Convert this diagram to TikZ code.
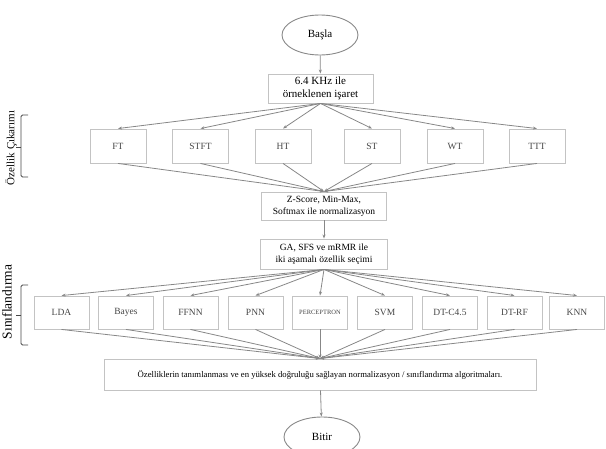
\documentclass[tikz,border=0pt]{standalone}
\usepackage{fontspec}
\setmainfont{Liberation Serif}
\usetikzlibrary{arrows.meta,shapes.geometric}
\definecolor{kenar}{RGB}{195,195,195}
\definecolor{cizgi}{RGB}{135,135,135}
\definecolor{yazi}{RGB}{70,70,70}

\begin{document}
\begin{tikzpicture}[>={Stealth[length=4pt,width=3pt]}, x=1pt, y=-1pt,
    kutu/.style={draw=kenar, line width=0.9pt, minimum width=56pt, minimum height=34pt, inner sep=1pt, text=yazi, font=\fontsize{9.5}{11}\selectfont},
    adim/.style={draw=kenar, line width=0.9pt, inner sep=1pt, align=center},
    bas/.style={ellipse, draw=cizgi, line width=0.9pt, minimum width=76pt, minimum height=40pt, font=\fontsize{11}{13}\selectfont},
    ok/.style={->, draw=cizgi, line width=0.8pt}]
    \useasboundingbox (0, 0) rectangle (606, 449);
    \node [bas] (basla) at (320, 35) {Başla};
    \node [adim, minimum width=105pt, minimum height=29pt, font=\fontsize{11}{13}\selectfont] (isaret) at (320.5, 88.5) {6.4 KHz ile\\örneklenen işaret};
    \draw [ok] (basla) -- (isaret);
    \node [kutu] (ft) at (118, 146) {FT};
    \node [kutu] (stft) at (200.5, 146) {STFT};
    \node [kutu] (ht) at (283, 146) {HT};
    \node [kutu] (st) at (372, 146) {ST};
    \node [kutu] (wt) at (455, 146) {WT};
    \node [kutu] (ttt) at (537, 146) {TTT};
    \node [adim, minimum width=125pt, minimum height=28pt, font=\fontsize{9.5}{12}\selectfont] (norm) at (324, 206) {Z-Score, Min-Max,\\Softmax ile normalizasyon};
    \foreach \d in {ft, stft, ht, st, wt, ttt} {
        \draw [ok] (isaret.south) -- (\d.north);
        \draw [ok] (\d.south) -- (norm.north);
    }
    \node [adim, minimum width=127pt, minimum height=30pt, font=\fontsize{9.5}{11.5}\selectfont] (secim) at (324, 254) {GA, SFS ve mRMR ile\\iki aşamalı özellik seçimi};
    \draw [ok] (norm) -- (secim);
    \node [kutu, minimum width=55pt, minimum height=33pt] (lda) at (61.5, 312.5) {LDA};
    \node [kutu, minimum width=55pt, minimum height=33pt] (bayes) at (126, 312.5) {Bayes};
    \node [kutu, minimum width=55pt, minimum height=33pt] (ffnn) at (190.5, 312.5) {FFNN};
    \node [kutu, minimum width=55pt, minimum height=33pt] (pnn) at (255.5, 312.5) {PNN};
    \node [kutu, minimum width=55pt, minimum height=33pt, font=\fontsize{6.5}{8}\selectfont] (perc) at (320, 312.5) {PERCEPTRON};
    \node [kutu, minimum width=55pt, minimum height=33pt] (svm) at (385, 312.5) {SVM};
    \node [kutu, minimum width=55pt, minimum height=33pt] (dtc) at (450, 312.5) {DT-C4.5};
    \node [kutu, minimum width=55pt, minimum height=33pt] (dtrf) at (514.5, 312.5) {DT-RF};
    \node [kutu, minimum width=55pt, minimum height=33pt] (knn) at (577, 312.5) {KNN};
    \node [adim, minimum width=432pt, minimum height=31pt, font=\fontsize{8.7}{10}\selectfont] (sonuc) at (320, 374.5) {Özelliklerin tanımlanması ve en yüksek doğruluğu sağlayan normalizasyon / sınıflandırma algoritmaları.};
    \foreach \s in {lda, bayes, ffnn, pnn, perc, svm, dtc, dtrf, knn} {
        \draw [ok] (secim.south) -- (\s.north);
        \draw [ok] (\s.south) -- (sonuc.north);
    }
    \node [bas] (bitir) at (322, 437) {Bitir};
    \draw [ok] (sonuc) -- (bitir);
    \draw [yazi, line width=0.9pt, rounded corners=1.5pt] (28, 115) -- (21, 115) -- (21, 177) -- (28, 177);
    \draw [yazi, line width=0.9pt] (21, 147) -- (16, 147);
    \node [rotate=90, font=\fontsize{11}{13}\selectfont] (ozellik) at (11, 148) {Özellik Çıkarımı};
    \draw [yazi, line width=0.9pt, rounded corners=1.5pt] (28, 285) -- (21, 285) -- (21, 345) -- (28, 345);
    \draw [yazi, line width=0.9pt] (21, 315) -- (16, 315);
    \node [rotate=90, font=\fontsize{13.5}{15}\selectfont] (sinif) at (7, 302) {Sınıflandırma};
\end{tikzpicture}
\end{document}
